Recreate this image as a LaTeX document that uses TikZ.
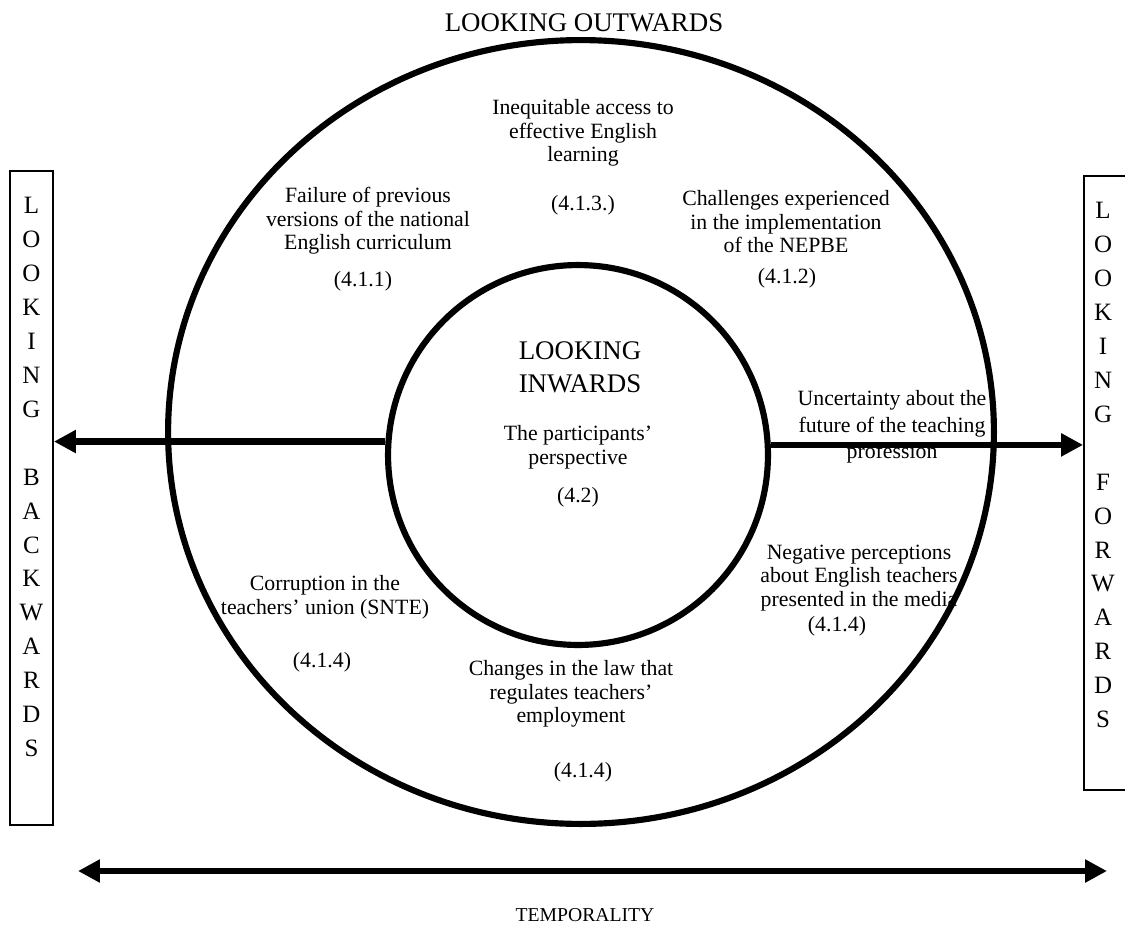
\documentclass[tikz,border=0pt]{standalone}
\usepackage{fontspec}
\setmainfont{Liberation Serif}
\usetikzlibrary{arrows.meta,shapes.geometric}

\tikzset{
  ring/.style={draw,line width=3.5pt},
  theme/.style={align=center,inner sep=0pt,font=\fontsize{12.4}{13.4}\selectfont},
  code/.style={inner sep=0pt,font=\fontsize{12.4}{13.4}\selectfont},
  heading/.style={align=center,inner sep=0pt,font=\fontsize{15.3}{18.9}\selectfont},
  sidebox/.style={draw,line width=1.1pt,inner sep=0pt},
  sideletters/.style={align=center,inner sep=0pt,font=\fontsize{14.2}{19.33}\selectfont},
  timearrow/.style={line width=3.7pt,>={Triangle[length=12.5pt,width=12.5pt]}}
}

\begin{document}
\begin{tikzpicture}[x=0.02cm,y=-0.02cm]
  \useasboundingbox (0,0) rectangle (1125,933);

  % the two rings
  \node[ring,ellipse,minimum width=16.52cm,minimum height=15.68cm] (outer) at (581,432) {};
  \node[ring,circle,minimum size=7.6cm] (inner) at (578,455) {};

  % side boxes
  \node[sidebox,minimum width=0.86cm,minimum height=13.08cm] (backbox) at (31.5,498) {};
  \node[sidebox,minimum width=0.84cm,minimum height=12.28cm] (forbox) at (1105,483) {};
  \node[sideletters,anchor=north] (backletters) at (31.5,196.7)
    {L\\O\\O\\K\\I\\N\\G\\~\\B\\A\\C\\K\\W\\A\\R\\D\\S};
  \node[sideletters,anchor=north] (forletters) at (1103,201.7)
    {L\\O\\O\\K\\I\\N\\G\\~\\F\\O\\R\\W\\A\\R\\D\\S};

  % arrows
  \draw[timearrow,->] (inner.176.7) -- (inner.176.7 -| backbox.east);
  \draw[timearrow,->] (inner.3.3) -- (inner.3.3 -| forbox.west);
  \coordinate (pastend) at (78,871);
  \coordinate (futureend) at (1107,871);
  \draw[timearrow,<->] (pastend) -- (futureend);

  % headings
  \node[heading] (outwards) at (584,22.5) {LOOKING OUTWARDS};
  \node[heading] (inwards) at (580,367.5) {LOOKING\\INWARDS};
  \node[heading,font=\fontsize{11.2}{13}\selectfont] (temporality) at (585,915) {TEMPORALITY};

  % outer themes
  \node[theme] (inequity) at (583,133) {Inequitable access to\\effective English\\learning};
  \node[code] (inequitycode) at (583,205) {(4.1.3.)};
  \node[theme] (failure) at (368,221) {Failure of previous\\versions of the national\\English curriculum};
  \node[code] (failurecode) at (363,281) {(4.1.1)};
  \node[theme] (challenges) at (786,222) {Challenges experienced\\in the implementation\\of the NEPBE};
  \node[code] (challengescode) at (787,278) {(4.1.2)};
  \node[theme,font=\fontsize{12.4}{15}\selectfont] (uncertainty) at (892,427)
    {Uncertainty about the\\future of the teaching\\profession};
  \node[theme] (corruption) at (325,597) {Corruption in the\\teachers' union (SNTE)};
  \node[code] (corruptioncode) at (322,662) {(4.1.4)};
  \node[theme] (perceptions) at (859,578) {Negative perceptions\\about English teachers\\presented in the media};
  \node[code] (perceptionscode) at (837,626) {(4.1.4)};
  \node[theme] (lawchange) at (571,694) {Changes in the law that\\regulates teachers'\\employment};
  \node[code] (lawchangecode) at (583,772) {(4.1.4)};

  % inner theme
  \node[theme] (perspective) at (578,447) {The participants'\\perspective};
  \node[code] (perspectivecode) at (578,497) {(4.2)};
\end{tikzpicture}
\end{document}
